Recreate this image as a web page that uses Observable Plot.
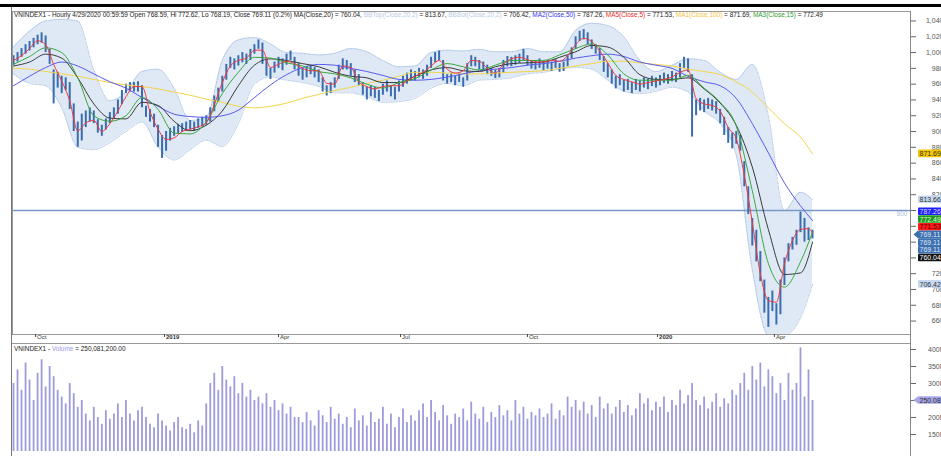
<!DOCTYPE html>
<html><head><meta charset="utf-8">
<script src="https://cdn.jsdelivr.net/npm/d3@7"></script>
<script src="https://cdn.jsdelivr.net/npm/@observablehq/plot@0.6"></script>
<style>
html,body{margin:0;padding:0;background:#fff;overflow:hidden;width:941px;height:456px}
#wrap{position:relative;width:941px;height:456px;font-family:"Liberation Sans",Arial,sans-serif;overflow:hidden}
#wrap svg{position:absolute;left:0}
.hdr{position:absolute;left:14px;font-size:6.45px;line-height:8px;white-space:nowrap;color:#222}
.ln{position:absolute;background:#9a9a9a}
</style></head>
<body><div id="wrap"></div>
<script>
// ---- candles (bar index 0..199): lows and highs
const lo = [
984,988,994,998,1002,1006,1010,1012,1000,985,
935,955,948,952,928,900,880,888,905,912,
910,898,894,902,910,916,922,934,948,950,
950,950,930,918,912,905,880,866,875,888,
894,897,899,900,902,900,904,906,908,912,
925,938,950,965,980,978,983,987,985,990,
998,1004,985,970,966,974,980,977,984,990,
978,970,965,968,972,968,962,950,945,948,
955,966,978,978,970,962,958,946,940,944,
942,938,946,950,944,940,950,956,960,964,
964,968,966,970,980,987,990,964,960,962,
958,962,956,964,982,982,978,976,972,970,
967,968,974,982,982,984,986,990,983,979,
978,980,977,979,976,980,975,976,982,992,
1004,1014,1016,1010,1004,998,990,975,968,960,
954,958,950,952,948,952,950,955,953,957,
955,958,961,960,963,962,968,980,975,893,
920,926,924,928,926,922,910,895,885,878,
884,875,830,795,755,735,710,670,652,672,
655,668,705,735,750,756,772,760,762,764];
const hi = [
996,1000,1005,1010,1014,1018,1022,1025,1021,1004,
978,975,970,968,962,935,912,922,926,930,
926,915,908,916,924,930,940,952,960,962,
962,963,958,932,928,922,908,895,900,904,
906,909,910,912,914,912,916,918,920,930,
945,955,970,985,994,992,996,1000,998,1004,
1010,1016,1012,992,980,988,994,992,998,1002,
994,986,980,982,984,981,978,968,958,962,
968,984,992,990,986,978,972,962,956,958,
956,952,960,964,958,956,964,970,974,978,
976,980,978,984,994,1000,1002,990,972,974,
970,974,968,986,996,994,990,988,984,980,
978,980,990,995,994,996,998,1004,996,990,
990,992,989,990,988,991,986,988,996,1006,
1020,1027,1029,1025,1016,1010,1005,995,986,978,
970,972,965,966,962,966,964,968,966,970,
968,971,974,972,976,974,986,994,992,972,
940,942,940,942,940,938,928,918,905,898,
900,895,862,830,790,775,748,712,690,698,
682,712,740,758,766,775,798,790,778,775];
// volume (millions) per bar
const volume = [
300,340,280,360,310,250,330,370,290,350,
320,280,260,240,300,270,230,250,210,190,
230,200,180,220,195,210,240,200,250,210,
190,220,230,200,180,170,210,190,175,160,
185,200,170,165,180,155,190,175,240,300,
330,280,350,310,290,320,270,300,260,280,
250,260,240,270,230,250,220,240,210,230,
200,200,185,215,190,175,220,205,185,230,
195,210,180,200,170,225,190,205,175,215,
185,195,230,180,210,170,200,225,185,205,
190,220,240,200,250,215,190,235,205,180,
210,200,225,190,245,210,195,230,185,215,
200,235,205,220,190,250,210,230,195,215,
205,225,200,210,240,195,220,205,260,230,
250,220,245,210,235,200,260,225,240,210,
230,250,215,235,205,225,270,240,255,220,
245,230,260,215,250,235,280,240,265,300,
250,235,260,225,245,270,230,255,240,280,
265,300,330,280,350,310,360,290,340,320,
270,300,250,330,280,300,405,260,340,250.08];
// MA5 sampled every 2 bars (0,2,...,198,199)
const ma5 = [
990,996,1005,1015,1010,985,964,939,901,911,
914,900,910,926,944,957,957,925,903,890,
892,900,903,906,911,934,962,983,990,993,
1003,1003,981,985,989,986,980,977,977,961,
960,983,981,963,957,954,957,958,958,964,
970,975,983,990,979,974,977,990,989,980,
974,985,992,994,991,988,988,990,989,996,
1010,1018,1014,1002,987,971,966,963,960,962,
964,966,969,975,978,942,935,933,926,905,
891,845,785,720,686,684,732,762,776,777,771.53];
// other studies sampled every 4 bars (0,4,...,196,199)
const ma15 = [985,995,1006,1000,968,920,913,920,943,928,898,897,912,948,975,994,993,987,983,976,
973,968,960,955,962,967,978,986,982,978,984,990,990,990,997,1005,1011,997,973,965,
965,965,971,955,937,907,825,733,703,735,772.49];
const ma20 = [983,988,998,993,968,935,917,916,937,933,913,901,908,926,958,984,992,990,986,982,
975,970,968,962,962,970,978,981,977,976,982,986,987,988,994,1001,1009,1007,994,972,
966,966,968,954,936,908,855,776,719,721,760.04];
const ma50 = [958,970,981,988,983,973,963,955,943,932,922,919,918,920,927,943,959,972,981,985,
984,980,976,971,966,965,966,969,973,977,979,981,984,986,989,993,996,998,995,988,
984,980,970,963,958,942,910,873,835,806,787.26];
const ma100 = [980,979,976,973,970,966,962,959,957,954,950,946,941,937,932,930,932,936,942,947,
952,956,961,965,970,975,975,974,973,973,974,975,976,977,980,983,986,989,989,987,
985,983,979,976,972,963,950,930,910,893,871.69];
const bbTop = [1007,1027,1040,1042,1040,978,939,950,976,979,955,914,918,990,1016,1019,1011,1000,999,997,
999,1005,1001,990,982,983,1000,1003,1002,1004,1001,1001,1005,1001,1001,1028,1037,1034,1020,990,
976,984,992,990,975,966,985,920,800,823,813.67];
const bbBot = [973,961,958,930,880,877,886,900,912,880,864,877,889,881,910,960,969,965,962,957,
949,949,944,937,938,942,955,961,958,965,966,968,973,975,979,981,979,965,951,948,
951,956,950,926,910,870,725,642,642,664,706.42];
// axis ticks
const monthPos = [5.5, 37.6, 66, 96.4, 128, 160.4, 189.5];
const monthLabels = ["Oct","2019","Apr","Jul","Oct","2020","Apr"];
const priceTicks = [660,680,700,720,740,760,780,800,820,840,860,880,900,920,940,960,980,1000,1020,1040];
const priceLabelTicks = [660,680,700,720,820,840,860,880,900,920,940,960,980,1000,1020,1040]; // others hidden under value tags
const volTicks = [150,200,250,300,350,400];
const volLabelTicks = [150,200,300,350,400]; // 250 hidden under value tag
// right-axis value tags
const tagValues = [871.69, 813.66, 787.26, 772.49, 771.53, 769.11, 769.11, 769.11, 760.04, 706.42];
const tagBg = ["#f6c500","#c7d9f0","#1f1fff","#1f9a1f","#ff1a1a","#3d6fae","#3d6fae","#3d6fae","#111111","#c7d9f0"];
const tagFg = ["#333","#333","#d8d8ff","#d8ffd8","#5a0000","#dfe8f6","#dfe8f6","#dfe8f6","#ffffff","#333"];
const lastVolume = 250.08;

const N = hi.length;
const candles = d3.range(N).map(i => ({i, lo: lo[i], hi: hi[i]}));
const volRows = d3.range(N).map(i => ({i, v: volume[i]}));
const idx2 = d3.range(0, N, 2).concat([N - 1]);
const idx4 = d3.range(0, N, 4).concat([N - 1]);
const rows = (arr, ix) => ix.map((i, k) => ({i, v: arr[k]}));
const band = idx4.map((i, k) => ({i, top: bbTop[k], bot: bbBot[k]}));
const months = monthPos.map((p, k) => ({i: p, label: monthLabels[k], bold: /^\d/.test(monthLabels[k])}));

const FONT = "Liberation Sans, Arial, sans-serif";
const xDomain = [-0.25, 223.4];
const curve = "monotone-x";

const price = Plot.plot({
  width: 941, height: 343, marginTop: 11, marginBottom: 9, marginLeft: 12, marginRight: 31,
  style: {fontFamily: FONT, background: "transparent"},
  x: {domain: xDomain, axis: null},
  y: {domain: [643, 1052], axis: null},
  marks: [
    Plot.areaY(band, {x: "i", y1: "bot", y2: "top", fill: "#dfe9f6", curve, clip: true}),
    Plot.lineY(band, {x: "i", y: "top", stroke: "#a6bfe2", strokeWidth: 0.9, strokeDasharray: "1.2,1.4", curve, clip: true}),
    Plot.lineY(band, {x: "i", y: "bot", stroke: "#a6bfe2", strokeWidth: 0.9, strokeDasharray: "1.2,1.4", curve, clip: true}),
    Plot.ruleY([800], {stroke: "#7898c8", strokeWidth: 1.6}),
    Plot.text([800], {y: d => d, frameAnchor: "right", textAnchor: "end", dx: -3, dy: 3, text: d => String(d), fill: "#b0c2dc", fontSize: 6.5}),
    Plot.ruleX(candles, {x: "i", y1: "lo", y2: "hi", stroke: "#3a6db0", strokeWidth: 2}),
    Plot.lineY(rows(ma100, idx4), {x: "i", y: "v", stroke: "#f4d44a", strokeWidth: 1, curve}),
    Plot.lineY(rows(ma50, idx4), {x: "i", y: "v", stroke: "#5a5af0", strokeWidth: 1, curve}),
    Plot.lineY(rows(ma20, idx4), {x: "i", y: "v", stroke: "#3a3a3a", strokeWidth: 1, curve}),
    Plot.lineY(rows(ma15, idx4), {x: "i", y: "v", stroke: "#3aa83a", strokeWidth: 1, curve}),
    Plot.lineY(rows(ma5, idx2), {x: "i", y: "v", stroke: "#f03a3a", strokeWidth: 1, curve}),
    Plot.frame({stroke: "#9a9a9a"}),
    Plot.axisY({anchor: "right", ticks: priceTicks, tickSize: 5, tickFormat: () => "", label: null, color: "#666"}),
    Plot.text(priceLabelTicks, {y: d => d, frameAnchor: "right", textAnchor: "end", dx: 33, text: d3.format(","), fontSize: 7, fill: "#555"}),
    Plot.axisX({ticks: monthPos, tickSize: 3, tickFormat: () => "", label: null, color: "#444"}),
    Plot.text(months.filter(d => !d.bold), {x: "i", frameAnchor: "bottom", dy: 4.5, dx: 1.5, textAnchor: "start", text: "label", fontSize: 6, fill: "#333"}),
    Plot.text(months.filter(d => d.bold), {x: "i", frameAnchor: "bottom", dy: 4.5, dx: 1.5, textAnchor: "start", text: "label", fontSize: 6, fontWeight: "bold", fill: "#333"})
  ]
});

const vol = Plot.plot({
  width: 941, height: 113, marginTop: 0, marginBottom: 5, marginLeft: 12, marginRight: 31,
  style: {fontFamily: FONT, background: "transparent"},
  x: {domain: xDomain, axis: null},
  y: {domain: [100, 417.6], axis: null},
  marks: [
    Plot.ruleX(volRows, {x: "i", y: "v", stroke: "#9d9bdb", strokeWidth: 1.8, clip: true}),
    Plot.axisY({anchor: "right", ticks: volTicks, tickSize: 5, tickFormat: () => "", label: null, color: "#666"}),
    Plot.text(volLabelTicks, {y: d => d, frameAnchor: "right", textAnchor: "end", dx: 35, text: d => d + "M", fontSize: 7, fill: "#555"})
  ]
});

const wrap = document.getElementById("wrap");
price.style.top = "0px";
vol.style.top = "343px";
wrap.appendChild(price);
wrap.appendChild(vol);

// value tags on price axis (dodged around the close tag)
function drawTags(svg, yScale, values, labels, bgs, fgs, anchorK) {
  const tgt = values.map(v => yScale.apply(v));
  const pos = tgt.slice();
  const gap = 7.7;
  for (let k = anchorK - 1; k >= 0; k--) pos[k] = Math.min(tgt[k], pos[k + 1] - gap);
  for (let k = anchorK + 1; k < values.length; k++) pos[k] = Math.max(tgt[k], pos[k - 1] + gap);
  const g = d3.select(svg).append("g").attr("font-family", FONT).attr("font-size", 7).attr("text-anchor", "start");
  values.forEach((v, k) => {
    const gg = g.append("g").attr("transform", `translate(918,${pos[k]})`);
    if (k === anchorK) gg.append("path").attr("d", "M-4.5,0L0,-3.8L0,3.8Z").attr("fill", bgs[k]);
    gg.append("rect").attr("x", 0).attr("y", -3.8).attr("width", 30).attr("height", 7.6).attr("rx", 1).attr("fill", bgs[k]);
    gg.append("text").attr("x", 1.5).attr("y", 2.6).attr("fill", fgs[k]).attr("text-anchor", "start").text(labels[k]);
  });
}
drawTags(price, price.scale("y"), tagValues, tagValues.map(v => v.toFixed(2)), tagBg, tagFg, 5);
drawTags(vol, vol.scale("y"), [lastVolume], [lastVolume.toFixed(2) + "M"], ["#a6a6e8"], ["#333"], 0);

// headers and panel lines
function addDiv(cls, css, html) {
  const d = document.createElement("div");
  d.className = cls; d.style.cssText = css; if (html) d.innerHTML = html;
  wrap.appendChild(d);
}
addDiv("ln", "left:0;top:4px;width:941px;height:2.6px;background:#000");
addDiv("ln", "left:11px;top:7px;width:1.2px;height:449px;background:#777");
addDiv("ln", "left:909.5px;top:11px;width:1px;height:445px;background:#888");
addDiv("ln", "left:12px;top:342.5px;width:898px;height:1px;background:#999");
const c = (col, t) => `<span style="color:${col}">${t}</span>`;
addDiv("hdr", "top:11px",
  "VNINDEX1 - Hourly 4/29/2020 00:59:59 Open 768.59, Hi 772.62, Lo 768.19, Close 769.11 (0.2%) MA(Close,20) = 760.04, " +
  c("#b9cbe6", "BBTop(Close,20,2)") + " = 813.67, " + c("#b9cbe6", "BBBot(Close,20,2)") + " = 706.42, " +
  c("#3535ee", "MA2(Close,50)") + " = 787.26, " + c("#ee2a2a", "MA5(Close,5)") + " = 771.53, " +
  c("#f2c53a", "MA1(Close,100)") + " = 871.69, " + c("#2e9e2e", "MA3(Close,15)") + " = 772.49");
addDiv("hdr", "top:344.5px", "VNINDEX1 - " + c("#9a9ae6", "Volume") + " = 250,081,200.00");
</script></body></html>
